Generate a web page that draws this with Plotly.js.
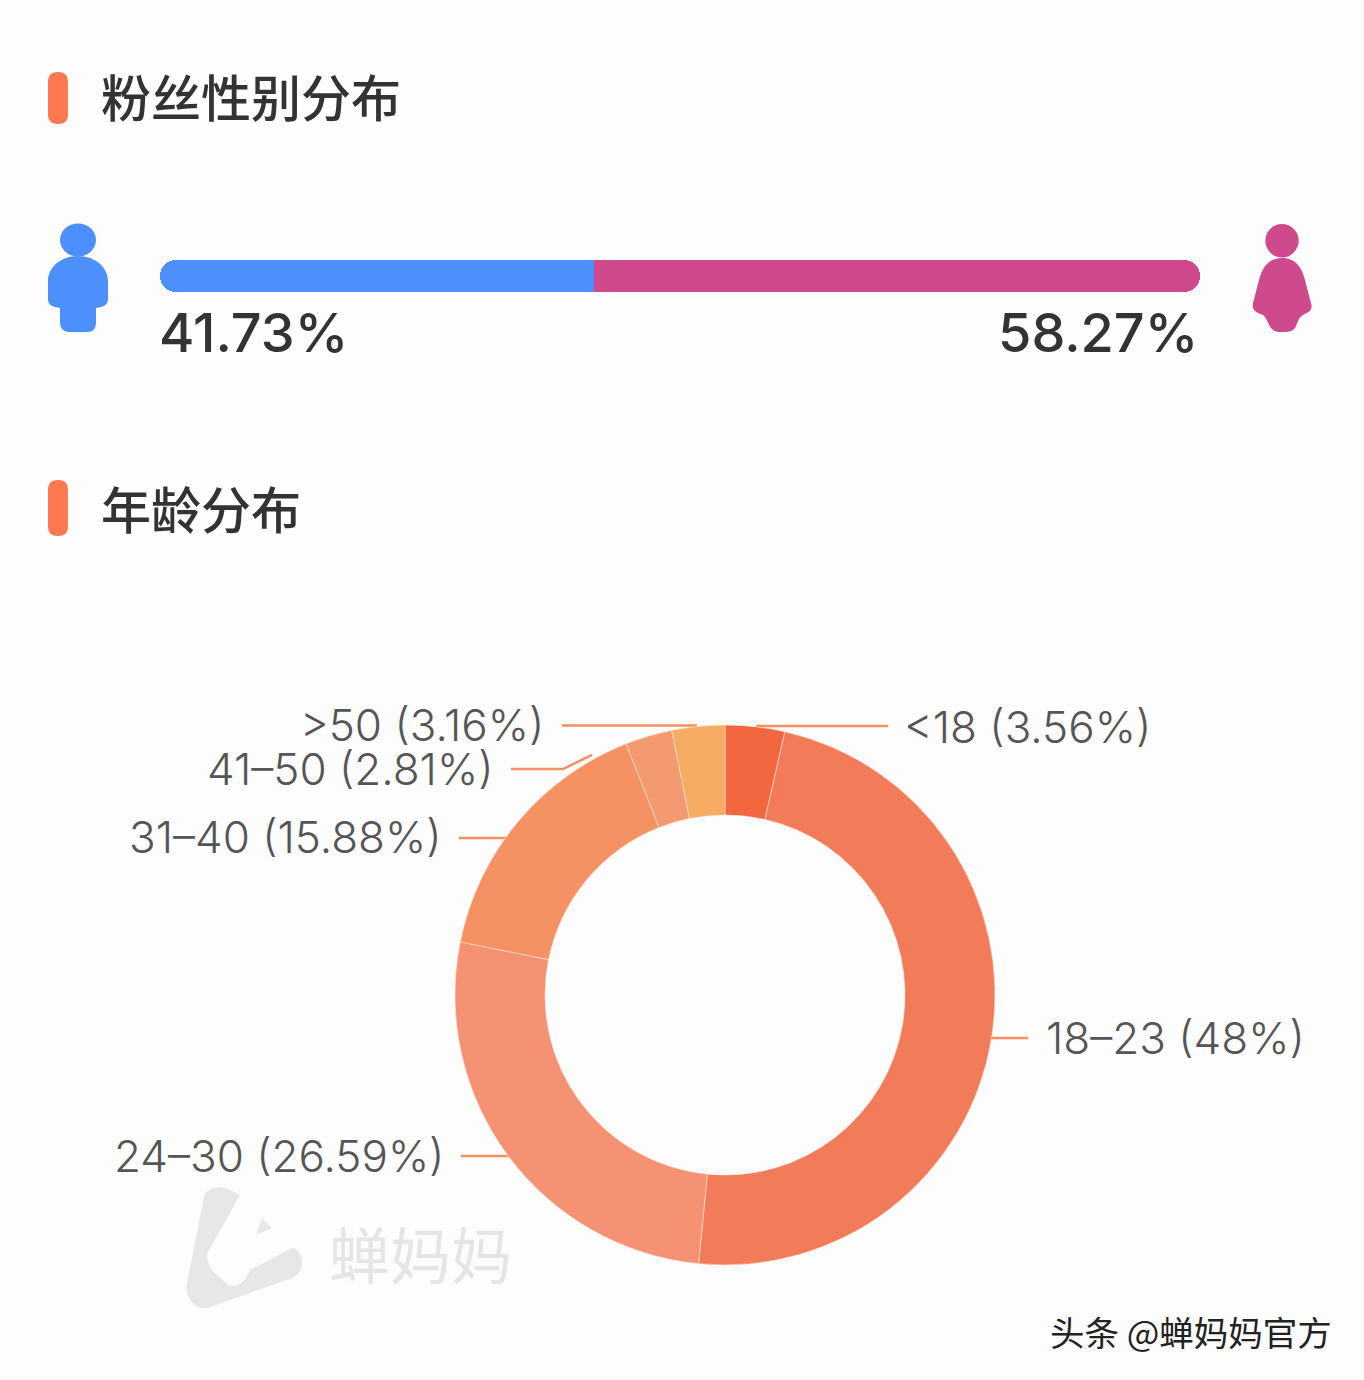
<!DOCTYPE html>
<html><head><meta charset="utf-8">
<script src="https://cdn.plot.ly/plotly-3.0.1.min.js"></script>
<style>html,body{margin:0;padding:0;background:#fdfdfd}#c{width:1364px;height:1380px}</style>
</head><body><div id="c"></div>
<script>
const W = 1364, H = 1380;
const genderNames = ['男', '女'];
const genderValues = [41.73, 58.27];
const genderColors = ['#4e90fb', '#cf4a8c'];
const ageLabels = ['<18', '18–23', '24–30', '31–40', '41–50', '>50'];
const ageValues = [3.56, 48, 26.59, 15.88, 2.81, 3.16];
const ageColors = ['#f2673f', '#f27c5a', '#f59273', '#f59263', '#f39a70', '#f6ac62'];
const titles = ['粉丝性别分布', '年龄分布'];

const px = x => x / W, py = y => 1 - y / H;
const CJK = '"Noto Sans CJK SC","Noto Sans",sans-serif';
const LAT = 'Inter,"Noto Sans CJK SC",sans-serif';
const ORANGE = '#f4915f';

function P(cmds) {
  return cmds.replace(/(-?\d+\.?\d*) (-?\d+\.?\d*)/g, (m, a, b) => px(+a).toFixed(5) + ' ' + py(+b).toFixed(5));
}
function shape(d, fill) {
  return {type: 'path', xref: 'paper', yref: 'paper', path: P(d), fillcolor: fill, line: {width: 0}, layer: 'above'};
}
function line(d) {
  return {type: 'path', xref: 'paper', yref: 'paper', path: P(d), line: {color: ORANGE, width: 2.5}, layer: 'below'};
}
function ellipse(cx, cy, rx, ry, fill) {
  return {type: 'circle', xref: 'paper', yref: 'paper', x0: px(cx - rx), x1: px(cx + rx), y0: py(cy + ry), y1: py(cy - ry), fillcolor: fill, line: {width: 0}};
}
function accent(y0, y1) {
  return shape(`M 48 ${y0 + 9} Q 48 ${y0} 58 ${y0} Q 68 ${y0} 68 ${y0 + 9} L 68 ${y1 - 9} Q 68 ${y1} 58 ${y1} Q 48 ${y1} 48 ${y1 - 9} Z`, '#fd7a50');
}
function ann(text, x, y, anchor, size, color, family, weight) {
  return {text, xref: 'paper', yref: 'paper', x: px(x), y: py(y), xanchor: anchor, yanchor: 'middle', showarrow: false,
    font: {size, color, family, weight: weight || 400}};
}
const pct = i => `${ageLabels[i]} (${ageValues[i]}%)`;

const shapes = [
  accent(72, 124), accent(480, 536),
  ellipse(78, 240, 18, 16.5, genderColors[0]),
  shape('M 78 256 C 60 256 48 268 48 281 L 48 299 C 48 306 54 307 60 308 L 60 322 C 60 329 64 332 70 332 L 87 332 C 93 332 96 329 96 322 L 96 308 C 102 307 108 306 108 299 L 108 281 C 108 268 96 256 78 256 Z', genderColors[0]),
  ellipse(1282, 240.7, 16.7, 16.7, genderColors[1]),
  shape('M 1282 258 C 1268 258 1262 268 1259 280 L 1253 303 C 1252 309 1254 312 1263 315 C 1267 318 1268 325 1272 329 C 1275 332 1277 332 1282 332 C 1288 332 1292 332 1295 328 C 1298 323 1298 318 1303 315 C 1310 312 1313 309 1311 303 L 1305 280 C 1302 268 1296 258 1282 258 Z', genderColors[1]),
  line('M 562 725.5 L 697 725.5'),
  line('M 756 726 L 888 726'),
  line('M 511 769 L 563 769 L 592 755'),
  line('M 459 838 L 506 838'),
  line('M 990 1038 L 1028 1038'),
  line('M 461 1156 L 510 1156'),
  shape('M 187 1283 L 204 1197 C 206 1188 218 1185 228 1189 L 240 1195 L 208 1252 C 206 1258 208 1264 212 1270 L 228 1285 C 236 1288 244 1284 250 1270 L 292 1248 C 298 1248 302 1256 302 1262 C 302 1270 298 1276 290 1279 L 207 1308 C 196 1310 184 1298 187 1283 Z', '#e8e7e7'),
  shape('M 262 1218 L 272 1228 L 256 1235 Z', '#e8e7e7'),
];

const annotations = [
  ann(titles[0], 99, 95, 'left', 50, '#333', CJK, 500),
  ann(titles[1], 99, 507, 'left', 50, '#333', CJK, 500),
  ann(genderValues[0] + '%', 157, 332, 'left', 54, '#333', LAT, 500),
  ann(genderValues[1] + '%', 1200, 332, 'right', 54, '#333', LAT, 500),
  ann(pct(5), 546, 725, 'right', 44, '#555', LAT, 300),
  ann(pct(0), 902, 727, 'left', 44, '#555', LAT, 300),
  ann(pct(4), 495, 769, 'right', 44, '#555', LAT, 300),
  ann(pct(3), 444, 837, 'right', 44, '#555', LAT, 300),
  ann(pct(1), 1044, 1038, 'left', 44, '#555', LAT, 300),
  ann(pct(2), 446, 1156, 'right', 44, '#555', LAT, 300),
  ann('蝉妈妈', 327, 1252, 'left', 61, '#e6e5e6', CJK, 400),
  ann('头条 @蝉妈妈官方', 1334, 1331, 'right', 34.5, '#222', CJK, 400),
];

// One bar per gender, plus a square-cornered overlap of its inner half, so only the outer ends of the track are round.
const genderBar = (base, value, color, name, radius) => ({
  type: 'bar', orientation: 'h', y: [0], base: [base], x: [value], name,
  marker: {color, line: {width: 0}, cornerradius: radius}, hoverinfo: 'skip'
});
const split = genderValues[0];
const data = [
  genderBar(0, genderValues[0], genderColors[0], genderNames[0], 16),
  genderBar(split / 2, split / 2, genderColors[0], genderNames[0], 0),
  genderBar(split, genderValues[1], genderColors[1], genderNames[1], 16),
  genderBar(split, genderValues[1] / 2, genderColors[1], genderNames[1], 0),
  {type: 'pie', labels: ageLabels, values: ageValues, sort: false, direction: 'clockwise', rotation: 0, hole: 2 / 3,
    marker: {colors: ageColors, line: {color: 'rgba(255,235,220,0.55)', width: 1}},
    textinfo: 'none', showlegend: false, hoverinfo: 'label+percent',
    domain: {x: [px(455), px(995)], y: [py(1265), py(725)]}}
];

const layout = {
  width: W, height: H, margin: {l: 0, r: 0, t: 0, b: 0},
  paper_bgcolor: '#fdfdfd', plot_bgcolor: 'rgba(0,0,0,0)',
  showlegend: false, barmode: 'overlay', bargap: 0,
  xaxis: {domain: [px(160), px(1200)], range: [0, 100], visible: false, fixedrange: true},
  yaxis: {domain: [py(292), py(260)], range: [-0.5, 0.5], visible: false, fixedrange: true},
  shapes, annotations
};
Plotly.newPlot('c', data, layout, {displayModeBar: false, staticPlot: true});
</script></body></html>
